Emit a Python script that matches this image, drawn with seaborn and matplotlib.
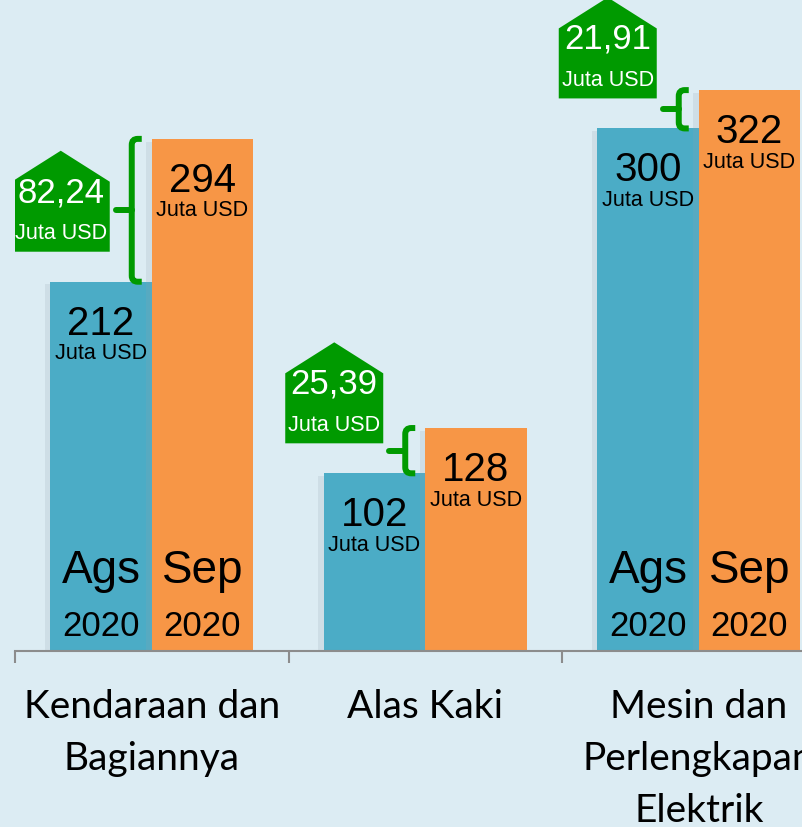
import matplotlib
matplotlib.use('Agg')
import matplotlib.pyplot as plt
import matplotlib.patheffects as pe
from matplotlib.path import Path
from matplotlib.patches import PathPatch, Polygon
import pandas as pd
import seaborn as sns

# Data
categories = ['Kendaraan dan\nBagiannya', 'Alas Kaki', 'Mesin dan\nPerlengkapan\nElektrik']
months = ['Ags\n2020', 'Sep\n2020']
ags_values = [212, 102, 300]
sep_values = [294, 128, 322]
changes = ['82,24', '25,39', '21,91']
unit = 'Juta USD'

# Style
BG = '#dcecf3'
BLUE = '#4bacc6'
ORANGE = '#f79646'
GREEN = '#009a00'
SANS = 'Liberation Sans'
W, H = 802, 828
YMAX = 374.3
PX_X = 273.5            # pixels per category
PX_Y = 652 / YMAX       # pixels per value unit
UX, UY = 1 / PX_X, 1 / PX_Y


def brace(ax, xv, y0, y1, arm, nub, color):
    '''Curly bracket: vertical at xv from y0 to y1, arms to the right, nub to the left.'''
    rx, ry = arm * 0.6, 6 * UY
    verts = [(xv + arm, y1), (xv + rx, y1), (xv, y1), (xv, y1 - ry),
             (xv, y0 + ry), (xv, y0), (xv + rx, y0), (xv + arm, y0)]
    codes = [Path.MOVETO, Path.LINETO, Path.CURVE3, Path.CURVE3,
             Path.LINETO, Path.CURVE3, Path.CURVE3, Path.LINETO]
    ax.add_patch(PathPatch(Path(verts, codes), fill=False, ec=color, lw=4.3,
                           capstyle='butt', zorder=5))
    ym = (y0 + y1) / 2
    ax.plot([xv, xv - nub], [ym, ym], color=color, lw=4.3,
            solid_capstyle='round', zorder=5)


def callout(ax, xr, yb, color):
    '''House shaped green box, right edge xr and bottom yb.'''
    w = 98 * UX
    pts = [(xr - w, yb), (xr, yb), (xr, yb + 70 * UY),
           (xr - w / 2, yb + 101 * UY), (xr - w, yb + 70 * UY)]
    ax.add_patch(Polygon(pts, closed=True, fc=color, ec='none', zorder=5))
    return xr - w / 2


if __name__ == '__main__':
    df = pd.DataFrame({
        'kategori': categories * 2,
        'bulan': [months[0]] * 3 + [months[1]] * 3,
        'nilai': ags_values + sep_values,
    })

    fig = plt.figure(figsize=(W / 100, H / 100), dpi=100, facecolor=BG)
    ax = fig.add_axes([15 / W, (H - 652) / H, 3 * PX_X / W, 652 / H])
    ax.set_facecolor(BG)

    sns.barplot(data=df, x='kategori', y='nilai', hue='bulan',
                palette=[BLUE, ORANGE], width=0.742, saturation=1,
                gap=0, legend=False, ax=ax)
    for bar in ax.patches:
        bar.set_path_effects([pe.SimplePatchShadow(offset=(-4, -2),
                                                   shadow_rgbFace='#8fa3ad',
                                                   alpha=0.18),
                              pe.Normal()])

    bw = 0.371
    for i in range(len(categories)):
        for j, vals in enumerate([ags_values, sep_values]):
            xc = i + (j - 0.5) * bw
            top = vals[i]
            ax.text(xc, top - 41 * UY, str(top), ha='center', va='center',
                    fontsize=29, family=SANS, color='black')
            ax.text(xc, top - 71 * UY, unit, ha='center', va='center',
                    fontsize=15.5, family=SANS, color='black')
            if top > 150:
                lab1, lab2 = months[j].split('\n')
                ax.text(xc, 81 * UY, lab1, ha='center', va='center',
                        fontsize=33, family=SANS, color='black')
                ax.text(xc, 25 * UY, lab2, ha='center', va='center',
                        fontsize=25, family=SANS, color='black')

        # Bracket + callout
        a, s = ags_values[i], sep_values[i]
        xv = i - 20 * UX
        brace(ax, xv, a, s, 10 * UX, 16 * UX, GREEN)
        yb = a + 30 * UY
        xc = callout(ax, xv - 22 * UX, yb, GREEN)
        ax.text(xc, yb + 60 * UY, changes[i], ha='center', va='center',
                fontsize=25, family=SANS, color='white', zorder=6)
        ax.text(xc, yb + 19 * UY, unit, ha='center', va='center',
                fontsize=15.5, family=SANS, color='white', zorder=6)

    # Axes
    ax.set_xlim(-0.5, 2.5)
    ax.set_ylim(0, YMAX)
    for side in ['top', 'right', 'left']:
        ax.spines[side].set_visible(False)
    ax.spines['bottom'].set_color('#8c8c8c')
    ax.spines['bottom'].set_linewidth(1.5)
    ax.set_yticks([])
    ax.set_xlabel('')
    ax.set_ylabel('')
    ax.set_xticks(range(len(categories)))
    ax.set_xticklabels(categories, fontsize=28, family='Lato',
                       linespacing=1.55)
    ax.tick_params(axis='x', which='major', length=0, pad=27)
    ax.set_xticks([-0.5, 0.5, 1.5, 2.5], minor=True)
    ax.tick_params(axis='x', which='minor', length=8.6, width=1.5,
                   color='#8c8c8c')

    plt.savefig('out.png', dpi=100, facecolor=BG)
